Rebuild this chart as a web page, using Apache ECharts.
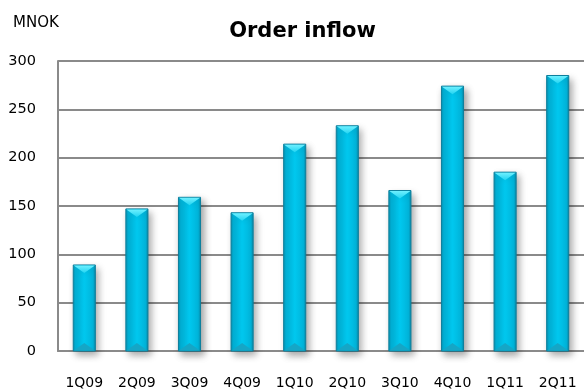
<!DOCTYPE html>
<html>
<head>
<meta charset="utf-8">
<script src="https://cdn.jsdelivr.net/npm/echarts@6/dist/echarts.min.js"></script>
<style>
  html, body { margin: 0; padding: 0; background: #fff; }
  #chart { width: 584px; height: 390px; }
</style>
</head>
<body>
<div id="chart"></div>
<script>
// Quarterly order inflow, MNOK
const quarters = ['1Q09', '2Q09', '3Q09', '4Q09', '1Q10', '2Q10', '3Q10', '4Q10', '1Q11', '2Q11'];
const orderInflow = [89, 147, 159, 143, 214, 233, 166, 274, 185, 285];
const unitLabel = 'MNOK';
const titleText = 'Order inflow';

const FONT = '"DejaVu Sans", Verdana, sans-serif';

// Bevelled cyan column: body with side shading, light top cap, darker bottom cap
function renderBar(params, api) {
  const idx = api.value(0);
  const val = api.value(1);
  const top = api.coord([idx, val]);
  const base = api.coord([idx, 0]);
  const w = api.size([1, 0])[0] * 0.42;
  const x0 = top[0] - w / 2;
  const yt = top[1];
  const yb = base[1];
  const cap = Math.min(8, (yb - yt) / 2);
  return {
    type: 'group',
    children: [
      {
        type: 'rect',
        shape: { x: x0, y: yt, width: w, height: yb - yt },
        style: {
          fill: new echarts.graphic.LinearGradient(0, 0, 1, 0, [
            { offset: 0, color: '#0a8fae' },
            { offset: 0.12, color: '#00b4da' },
            { offset: 0.5, color: '#00c8ef' },
            { offset: 0.88, color: '#00b4da' },
            { offset: 1, color: '#0a86a4' }
          ]),
          stroke: '#0d7f9c',
          lineWidth: 1,
          shadowColor: 'rgba(0,0,0,0.35)',
          shadowBlur: 7,
          shadowOffsetX: 3,
          shadowOffsetY: 4
        }
      },
      {
        type: 'polygon',
        shape: { points: [[x0 + 0.5, yt + 0.5], [x0 + w - 0.5, yt + 0.5], [x0 + w / 2, yt + cap]] },
        style: {
          fill: new echarts.graphic.LinearGradient(0, 0, 0, 1, [
            { offset: 0, color: '#6ff0ff' },
            { offset: 1, color: '#22d4f2' }
          ])
        }
      },
      {
        type: 'polygon',
        shape: { points: [[x0 + 0.5, yb - 0.5], [x0 + w - 0.5, yb - 0.5], [x0 + w / 2, yb - cap]] },
        style: { fill: '#15a6c6' }
      }
    ]
  };
}

const chart = echarts.init(document.getElementById('chart'), null, { renderer: 'canvas' });

chart.setOption({
  animation: false,
  backgroundColor: '#ffffff',
  textStyle: { fontFamily: FONT },
  graphic: [
    {
      type: 'text',
      x: 302.5,
      y: 32,
      style: {
        text: titleText,
        font: 'bold 21px ' + FONT,
        fill: '#000',
        align: 'center',
        verticalAlign: 'middle'
      }
    },
    {
      type: 'text',
      x: 13,
      y: 23,
      style: {
        text: unitLabel,
        font: '15px ' + FONT,
        fill: '#000',
        align: 'left',
        verticalAlign: 'middle'
      }
    }
  ],
  grid: { left: 58, top: 61, width: 530, height: 290 },
  xAxis: {
    type: 'category',
    data: quarters,
    boundaryGap: true,
    axisLine: { show: true, lineStyle: { color: '#8a8a8a', width: 2 } },
    axisTick: { show: false },
    axisLabel: { color: '#000', fontSize: 14, fontFamily: FONT, margin: 25, interval: 0 },
    splitLine: { show: false }
  },
  yAxis: {
    type: 'value',
    min: 0,
    max: 300,
    interval: 50,
    axisLine: { show: true, lineStyle: { color: '#8a8a8a', width: 2 } },
    axisTick: { show: false },
    axisLabel: { color: '#000', fontSize: 14.5, fontFamily: FONT, margin: 22 },
    splitLine: { show: true, lineStyle: { color: '#8a8a8a', width: 2 } }
  },
  series: [
    {
      type: 'custom',
      renderItem: renderBar,
      encode: { x: 0, y: 1 },
      data: orderInflow.map((v, i) => [i, v]),
      clip: false
    }
  ]
});
</script>
</body>
</html>
